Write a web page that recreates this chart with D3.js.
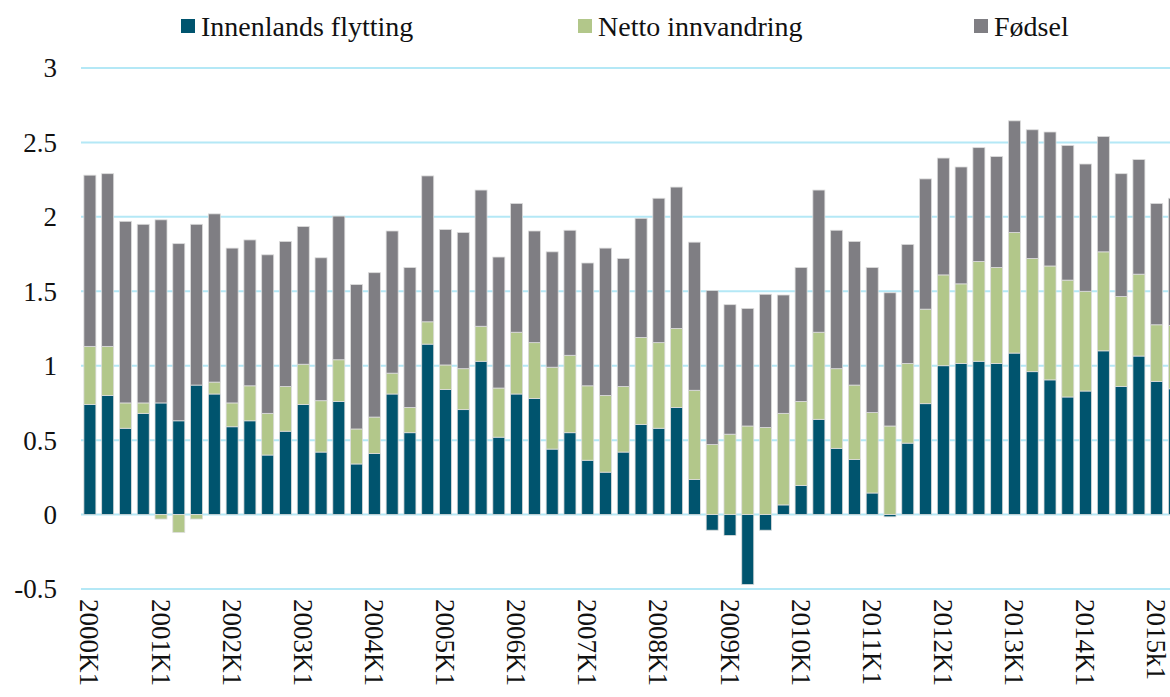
<!DOCTYPE html>
<html>
<head>
<meta charset="utf-8">
<script src="https://cdn.jsdelivr.net/npm/d3@7"></script>
<style>
  body { margin: 0; background: #fff; }
</style>
</head>
<body>
<svg id="chart" width="1170" height="697"></svg>
<script>
// quarters 2000K1 .. 2015K2 (the last one is cut by the edge)
var years = d3.range(2000, 2016);
var quarters = [];
years.forEach(y => [1, 2, 3, 4].forEach(q => quarters.push(y + "K" + q)));
quarters = quarters.slice(0, 62);

var tickLabels = ["2000K1", "2001K1", "2002K1", "2003K1", "2004K1", "2005K1", "2006K1", "2007K1",
                  "2008K1", "2009K1", "2010K1", "2011K1", "2012K1", "2013K1", "2014K1", "2015k1"];

var innenlands = [0.74, 0.80, 0.58, 0.68, 0.75, 0.63, 0.87, 0.81, 0.59, 0.63, 0.40, 0.56, 0.74, 0.42, 0.76, 0.34,
                  0.41, 0.81, 0.55, 1.145, 0.84, 0.705, 1.03, 0.52, 0.81, 0.78, 0.44, 0.55, 0.365, 0.285, 0.42, 0.605,
                  0.58, 0.72, 0.235, -0.105, -0.14, -0.47, -0.105, 0.065, 0.195, 0.64, 0.445, 0.37, 0.145, -0.015,
                  0.48, 0.745, 1.00, 1.015, 1.03, 1.015, 1.085, 0.96, 0.905, 0.79, 0.83, 1.10, 0.86, 1.065, 0.895, 0.845];

var netto = [0.39, 0.33, 0.17, 0.07, -0.03, -0.12, -0.03, 0.08, 0.16, 0.235, 0.28, 0.30, 0.27, 0.345, 0.28, 0.235,
             0.245, 0.14, 0.17, 0.15, 0.165, 0.275, 0.235, 0.33, 0.415, 0.375, 0.55, 0.52, 0.50, 0.515, 0.44, 0.585,
             0.575, 0.53, 0.60, 0.47, 0.54, 0.595, 0.585, 0.615, 0.565, 0.585, 0.535, 0.50, 0.54, 0.595,
             0.535, 0.635, 0.61, 0.535, 0.67, 0.645, 0.81, 0.76, 0.765, 0.785, 0.67, 0.665, 0.605, 0.55, 0.38, 0.425];

var fodsel = [1.15, 1.16, 1.22, 1.20, 1.23, 1.19, 1.08, 1.13, 1.04, 0.98, 1.065, 0.975, 0.925, 0.96, 0.965, 0.97,
              0.97, 0.955, 0.94, 0.98, 0.91, 0.915, 0.915, 0.88, 0.865, 0.75, 0.775, 0.84, 0.825, 0.99, 0.86, 0.80,
              0.97, 0.95, 0.995, 1.035, 0.87, 0.79, 0.895, 0.795, 0.90, 0.955, 0.93, 0.965, 0.975, 0.895,
              0.80, 0.875, 0.785, 0.785, 0.765, 0.745, 0.75, 0.865, 0.90, 0.905, 0.855, 0.775, 0.825, 0.77, 0.815, 0.855];

var seriesNames = ["Innenlands flytting", "Netto innvandring", "Fødsel"];
var colors = ["#00546e", "#b2c78a", "#7f7e83"];
var yTicks = [-0.5, 0, 0.5, 1, 1.5, 2, 2.5, 3];

var rows = quarters.map((q, i) => ({
    q: q,
    "Innenlands flytting": innenlands[i],
    "Netto innvandring": netto[i],
    "Fødsel": fodsel[i]
}));

var serif = "Liberation Serif, DejaVu Serif, serif";
var svg = d3.select("#chart");
var left = 81;

var x = d3.scaleBand()
    .domain(quarters)
    .range([left, left + 17.78 * quarters.length])
    .paddingInner(0.325)
    .paddingOuter(0.1625);

var y = d3.scaleLinear().domain([-0.5, 3]).range([589, 68]);

// gridlines
svg.append("g")
    .selectAll("line")
    .data(yTicks)
    .enter()
    .append("line")
    .attr("x1", left)
    .attr("x2", 1170)
    .attr("y1", d => y(d))
    .attr("y2", d => y(d))
    .attr("stroke", "#b4e8f6")
    .attr("stroke-width", 2);

// y tick labels
svg.append("g")
    .selectAll("text")
    .data(yTicks)
    .enter()
    .append("text")
    .attr("x", 57)
    .attr("y", d => y(d))
    .attr("dy", "0.35em")
    .attr("text-anchor", "end")
    .style("font-family", serif)
    .attr("font-size", 27)
    .attr("fill", "#111")
    .text(d => d);

// stacked bars
var stack = d3.stack().keys(seriesNames).offset(d3.stackOffsetDiverging);
var layers = stack(rows);

svg.append("g")
    .selectAll("g")
    .data(layers)
    .enter()
    .append("g")
    .attr("fill", (d, i) => colors[i])
    .selectAll("rect")
    .data(d => d)
    .enter()
    .append("rect")
    .attr("x", d => x(d.data.q))
    .attr("width", x.bandwidth())
    .attr("y", d => y(Math.max(d[0], d[1])))
    .attr("height", d => Math.abs(y(d[0]) - y(d[1])))
    .attr("stroke", "#dcdcdc")
    .attr("stroke-width", 0.8);

// x labels, every first quarter
svg.append("g")
    .selectAll("text")
    .data(tickLabels)
    .enter()
    .append("text")
    .attr("transform", (d, i) => "translate(" + (x(quarters[i * 4]) + x.bandwidth() / 2) + ",599) rotate(90)")
    .attr("dy", "0.35em")
    .style("font-family", serif)
    .attr("font-size", 27)
    .attr("fill", "#111")
    .text(d => d);

// legend
var legendX = [181, 578, 974];
var legend = svg.append("g")
    .selectAll("g")
    .data(seriesNames)
    .enter()
    .append("g")
    .attr("transform", (d, i) => "translate(" + legendX[i] + ",19)");

legend.append("rect")
    .attr("width", 14)
    .attr("height", 14)
    .attr("fill", (d, i) => colors[i]);

legend.append("text")
    .attr("x", 20)
    .attr("y", 7)
    .attr("dy", "0.35em")
    .style("font-family", serif)
    .attr("font-size", 28)
    .attr("fill", "#111")
    .text(d => d);
</script>
</body>
</html>
